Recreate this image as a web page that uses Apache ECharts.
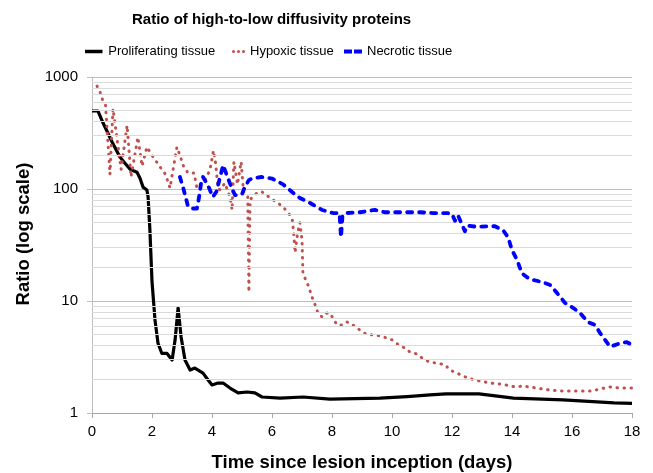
<!DOCTYPE html>
<html><head><meta charset="utf-8">
<script src="https://cdn.jsdelivr.net/npm/echarts@6/dist/echarts.min.js"></script>
<style>html,body{margin:0;padding:0;background:#fff}#c{width:653px;height:473px}</style>
</head><body><div id="c"></div>
<script>
const titleText = 'Ratio of high-to-low diffusivity proteins';
const xAxisTitle = 'Time since lesion inception (days)';
const yAxisTitle = 'Ratio (log scale)';
const seriesNames = ['Proliferating tissue', 'Hypoxic tissue', 'Necrotic tissue'];

const prolifDays  = [0, 0.2, 0.37, 0.67, 0.93, 1.1, 1.27, 1.4, 1.5, 1.6, 1.7, 1.83, 1.87, 1.93, 2.0, 2.1, 2.2, 2.33, 2.5, 2.67, 2.77, 2.87, 2.97, 3.1, 3.27, 3.43, 3.7, 3.87, 4.0, 4.2, 4.37, 4.6, 4.87, 5.17, 5.43, 5.67, 6.27, 7.03, 7.93, 9.6, 10.5, 11.27, 11.8, 12.9, 14.05, 15.7, 17.4, 18];
const prolifRatio = [497, 497, 388, 263, 193, 170, 150, 145, 141, 125, 104, 98, 85, 43, 15, 6.75, 4.2, 3.4, 3.4, 2.97, 4.5, 8.66, 4.77, 2.97, 2.42, 2.52, 2.27, 1.97, 1.78, 1.85, 1.85, 1.67, 1.51, 1.54, 1.51, 1.39, 1.36, 1.39, 1.33, 1.36, 1.4, 1.45, 1.48, 1.48, 1.36, 1.31, 1.23, 1.22];

const hypoxDays  = [0.17, 0.27, 0.35, 0.45, 0.6, 0.7, 0.97, 1.17, 1.3, 1.53, 1.67, 1.83, 2.0, 2.25, 2.45, 2.6, 2.83, 2.93, 3.05, 3.2, 3.4, 3.5, 3.77, 3.93, 4.05, 4.12, 4.2, 4.27, 4.43, 4.6, 4.67, 4.73, 4.85, 4.97, 5.05, 5.19, 5.23, 5.27, 5.4, 5.5, 5.65, 6.03, 6.2, 6.37, 6.53, 6.67, 6.72, 6.77, 6.85, 6.93, 7.0, 7.03, 7.2, 7.37, 7.47, 7.53, 7.67, 7.83, 7.93, 8.17, 8.33, 8.5, 8.7, 8.93, 9.17, 9.43, 9.7, 10.0, 10.2, 10.43, 10.6, 10.83, 11.0, 11.2, 11.43, 11.77, 11.93, 12.17, 12.53, 12.93, 13.27, 13.67, 14.1, 14.37, 14.83, 15.27, 15.7, 16.17, 16.67, 16.93, 17.27, 17.6, 18];
const hypoxRatio = [830, 730, 630, 560, 135, 520, 150, 370, 128, 290, 160, 237, 200, 160, 135, 102, 237, 200, 160, 139, 139, 102, 120, 148, 220, 170, 102, 98, 113, 85, 65, 175, 110, 175, 95, 85, 12, 80, 88, 92, 95, 80, 75, 69, 62, 55, 41, 27, 40, 50, 35, 17.7, 13.9, 10.2, 8.8, 7.8, 7.2, 7.8, 7.8, 6.1, 6.1, 6.5, 6.1, 5.5, 5.0, 5.0, 4.8, 4.5, 4.1, 3.8, 3.5, 3.36, 3.1, 2.9, 2.8, 2.7, 2.42, 2.27, 2.05, 1.93, 1.85, 1.81, 1.71, 1.74, 1.67, 1.6, 1.57, 1.57, 1.57, 1.64, 1.71, 1.67, 1.67];

const necroDays  = [2.93, 3.05, 3.2, 3.33, 3.5, 3.57, 3.63, 3.7, 3.85, 4.03, 4.15, 4.27, 4.37, 4.53, 4.67, 4.77, 5.0, 5.1, 5.23, 5.35, 5.65, 6.0, 6.37, 6.67, 6.93, 7.27, 7.67, 8.03, 8.25, 8.3, 8.35, 8.5, 8.93, 9.43, 9.75, 10.37, 10.93, 11.37, 11.83, 12.0, 12.1, 12.2, 12.43, 12.5, 12.83, 13.17, 13.43, 13.7, 13.87, 14.0, 14.17, 14.33, 14.5, 14.7, 15.0, 15.27, 15.5, 15.77, 16.03, 16.27, 16.53, 16.77, 16.93, 17.27, 17.6, 17.83, 18];
const necroRatio = [128, 100, 70, 67, 67, 85, 110, 128, 110, 85, 95, 128, 163, 125, 100, 88, 90, 105, 120, 125, 128, 124, 110, 94, 83, 75, 65, 61, 61, 37, 58, 61, 62, 65, 62, 62, 62, 61, 61, 60, 52, 58, 42, 47, 46, 46.5, 46.5, 43, 37, 28.5, 23.2, 17.7, 16.3, 15.4, 14.8, 13.9, 11.8, 9.6, 8.7, 7.8, 6.5, 6.1, 5.2, 3.9, 4.2, 4.3, 4.05];

const xTickStep = 2;
const minorGridValues = [2, 3, 4, 5, 6, 7, 8, 9, 20, 30, 40, 50, 60, 70, 80, 90, 200, 300, 400, 500, 600, 700, 800, 900];

function zip(a, b) { return a.map((x, i) => [x, b[i]]); }
const FONT = '"Liberation Sans", Arial, sans-serif';

const chart = echarts.init(document.getElementById('c'), null, { renderer: 'canvas' });
const legendText = { fontFamily: FONT, fontSize: 13, color: '#000' };
chart.setOption({
  animation: false,
  backgroundColor: '#fff',
  title: {
    text: titleText, left: 132, top: 12, padding: 0,
    textStyle: { fontFamily: FONT, fontSize: 15, fontWeight: 'bold', color: '#000' }
  },
  legend: [
    { data: [seriesNames[0]], left: 85, top: 45, padding: 0, itemWidth: 19, itemHeight: 3.5, icon: 'path://M0,0H20V4H0Z', textStyle: legendText },
    { data: [seriesNames[1]], left: 232, top: 45, padding: 0, itemWidth: 13, itemHeight: 3, icon: 'path://M0,1.5a1.5,1.5 0 1,0 3,0a1.5,1.5 0 1,0 -3,0M5,1.5a1.5,1.5 0 1,0 3,0a1.5,1.5 0 1,0 -3,0M10,1.5a1.5,1.5 0 1,0 3,0a1.5,1.5 0 1,0 -3,0', textStyle: legendText },
    { data: [seriesNames[2]], left: 344, top: 45, padding: 0, itemWidth: 18, itemHeight: 4, icon: 'path://M0,0h8v4h-8zM10,0h8v4h-8z', textStyle: legendText }
  ],
  grid: { left: 92, right: 21, top: 77, bottom: 60, outerBoundsMode: 'none', containLabel: false },
  xAxis: {
    type: 'value', min: 0, max: 18, interval: xTickStep,
    name: xAxisTitle, nameLocation: 'middle', nameGap: 40,
    nameTextStyle: { fontFamily: FONT, fontSize: 18.5, fontWeight: 'bold', color: '#000' },
    axisLine: { show: true, lineStyle: { color: '#a6a6a6', width: 1 } },
    axisTick: { show: true, length: 5, lineStyle: { color: '#a6a6a6' } },
    axisLabel: { fontFamily: FONT, fontSize: 15, color: '#000', margin: 11 },
    splitLine: { show: false }
  },
  yAxis: {
    type: 'log', logBase: 10, min: 1, max: 1000,
    name: yAxisTitle, nameLocation: 'middle', nameGap: 58,
    nameTextStyle: { fontFamily: FONT, fontSize: 18.5, fontWeight: 'bold', color: '#000', padding: [0, 0, 0, 22] },
    axisLine: { show: true, lineStyle: { color: '#bfbfbf', width: 1 } },
    axisTick: { show: true, length: 5, lineStyle: { color: '#bfbfbf' } },
    axisLabel: { fontFamily: FONT, fontSize: 15, color: '#000', margin: 14, formatter: v => String(v) },
    splitLine: { show: true, lineStyle: { color: '#bdbdbd', width: 1 } }
  },
  series: [
    {
      type: 'line', data: [], z: 1, silent: true,
      markLine: {
        silent: true, symbol: ['none', 'none'], label: { show: false },
        lineStyle: { color: '#dadada', width: 1, type: 'solid' },
        emphasis: { disabled: true },
        data: minorGridValues.map(v => ({ yAxis: v }))
      }
    },
    {
      name: seriesNames[0], type: 'line', z: 3, symbol: 'none',
      data: zip(prolifDays, prolifRatio),
      itemStyle: { color: '#000000' },
      lineStyle: { color: '#000000', width: 3.2, join: 'round' }
    },
    {
      name: seriesNames[1], type: 'line', z: 4, symbol: 'none',
      data: zip(hypoxDays, hypoxRatio),
      itemStyle: { color: '#c0504d' },
      lineStyle: { color: '#c0504d', width: 3, type: [0.5, 6.5], cap: 'round', join: 'round' }
    },
    {
      name: seriesNames[2], type: 'line', z: 5, symbol: 'none',
      data: zip(necroDays, necroRatio),
      itemStyle: { color: '#0000ff' },
      lineStyle: { color: '#0000ff', width: 3.8, type: [5, 7], cap: 'round', join: 'round' }
    }
  ]
});
</script>
</body></html>
